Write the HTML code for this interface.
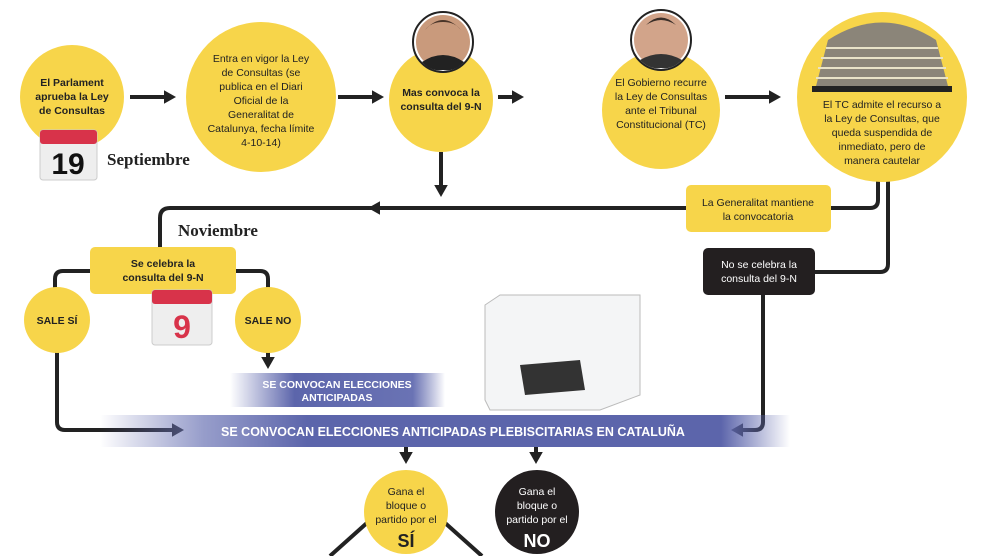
<!DOCTYPE html>
<html><head><meta charset="utf-8"><style>
body{margin:0;background:#fff;width:990px;height:556px;overflow:hidden}
svg{display:block}
text{font-family:"Liberation Sans",sans-serif}
.b{font-weight:bold}
</style></head><body>
<svg width="990" height="556" viewBox="0 0 990 556">
<defs>
<marker id="a" markerWidth="4" markerHeight="4" refX="2" refY="2" orient="auto" markerUnits="strokeWidth"><path d="M0,0.3L3,2L0,3.7z" fill="#222"/></marker>
<linearGradient id="g" x1="0" x2="1"><stop offset="0" stop-color="#5d66ad" stop-opacity="0"/><stop offset="0.15" stop-color="#6a73b4" stop-opacity="0.7"/><stop offset="0.3" stop-color="#5c65ab"/><stop offset="0.9" stop-color="#5c65ab"/><stop offset="1" stop-color="#5c65ab" stop-opacity="0"/></linearGradient>
<linearGradient id="g2" x1="0" x2="1"><stop offset="0" stop-color="#5d66ad" stop-opacity="0"/><stop offset="0.3" stop-color="#5c65ab"/><stop offset="0.85" stop-color="#6a73b4"/><stop offset="1" stop-color="#5c65ab" stop-opacity="0"/></linearGradient>
</defs>
<g stroke="#222" stroke-width="4" fill="none">
<path d="M130,97H172" marker-end="url(#a)"/>
<path d="M338,97H380" marker-end="url(#a)"/>
<path d="M498,97H520" marker-end="url(#a)"/>
<path d="M725,97H777" marker-end="url(#a)"/>
<path d="M441,152V193" marker-end="url(#a)"/>
<path d="M878,180V200Q878,208 870,208H830"/>
<path d="M686,208H170Q160,208 160,218V248"/>
<path d="M450,208H372" marker-end="url(#a)"/>
<path d="M888,180V264Q888,272 880,272H815"/>
<path d="M763,295V422Q763,430 755,430H735" marker-end="url(#a)"/>
<path d="M90,271H63Q55,271 55,279V292"/>
<path d="M236,271H260Q268,271 268,279V292"/>
<path d="M268,352V365" marker-end="url(#a)"/>
<path d="M57,352V422Q57,430 65,430H180" marker-end="url(#a)"/>
<path d="M406,447V460" marker-end="url(#a)"/>
<path d="M536,447V460" marker-end="url(#a)"/>
<path d="M368,522L330,556M444,522L482,556"/>
</g>
<g fill="#f7d54a">
<circle cx="72" cy="97" r="52"/>
<circle cx="261" cy="97" r="75"/>
<circle cx="441" cy="100" r="52"/>
<circle cx="661" cy="110" r="59"/>
<circle cx="882" cy="97" r="85"/>
<circle cx="57" cy="320" r="33"/>
<circle cx="268" cy="320" r="33"/>
<circle cx="406" cy="512" r="42"/>
<rect x="686" y="185" width="145" height="47" rx="5"/>
<rect x="90" y="247" width="146" height="47" rx="5"/>
</g>
<circle cx="537" cy="512" r="42" fill="#231f20"/>
<rect x="703" y="248" width="112" height="47" rx="5" fill="#231f20"/>
<circle cx="443" cy="42" r="30" fill="#fff" stroke="#222" stroke-width="2"/>
<circle cx="443" cy="42" r="27" fill="#c99a7c"/><path d="M422,62Q443,48 464,62Q455,72 443,70Q431,72 422,62z" fill="#222"/><path d="M425,30Q443,10 461,30Q455,22 443,22Q431,22 425,30z" fill="#4a3529"/>
<circle cx="661" cy="40" r="30" fill="#fff" stroke="#222" stroke-width="2"/>
<circle cx="661" cy="40" r="27" fill="#d2a48a"/><path d="M640,60Q661,48 682,60Q672,70 661,68Q650,70 640,60z" fill="#333"/><path d="M646,25Q661,10 676,25Q668,20 661,20Q654,20 646,25z" fill="#3a2e28"/>
<path d="M815,90L828,40Q882,5 936,40L949,90z" fill="#8b8579"/>
<g stroke="#e8e2c8" stroke-width="2"><path d="M826,48H938M821,58H943M818,68H946M816,78H948"/></g>
<rect x="812" y="86" width="140" height="6" fill="#222"/>
<rect x="40" y="130" width="57" height="50" rx="3" fill="#eee" stroke="#ccc"/><rect x="40" y="130" width="57" height="14" rx="3" fill="#d8334a"/>
<text class="b" x="68" y="174" font-size="30" text-anchor="middle" fill="#111">19</text>
<rect x="152" y="290" width="60" height="55" rx="3" fill="#eee" stroke="#ccc"/><rect x="152" y="290" width="60" height="14" rx="3" fill="#d8334a"/>
<text class="b" x="182" y="338" font-size="32" text-anchor="middle" fill="#d8334a">9</text>
<text class="b" x="107" y="165" font-size="17" fill="#222" style="font-family:'Liberation Serif',serif">Septiembre</text>
<text class="b" x="178" y="236" font-size="17" fill="#222" style="font-family:'Liberation Serif',serif">Noviembre</text>
<path d="M485,305L500,295H640L640,395L600,410H490L485,400z" fill="#f4f5f6" stroke="#bbb"/>
<path d="M520,365L580,360L585,390L525,395z" fill="#333"/>
<rect x="230" y="373" width="215" height="34" fill="url(#g2)"/>
<rect x="100" y="415" width="690" height="32" fill="url(#g)"/>
<g class="b" fill="#222" text-anchor="middle" font-size="10.5">
<text x="72" y="86">El Parlament</text><text x="72" y="100">aprueba la Ley</text><text x="72" y="114">de Consultas</text>
</g>
<g fill="#222" text-anchor="middle" font-size="10.5">
<text x="261" y="62">Entra en vigor la Ley</text><text x="261" y="76">de Consultas (se</text><text x="261" y="90">publica en el Diari</text><text x="261" y="104">Oficial de la</text><text x="261" y="118">Generalitat de</text><text x="261" y="132">Catalunya, fecha límite</text><text x="261" y="146">4-10-14)</text>
<text x="661" y="86">El Gobierno recurre</text><text x="661" y="100">la Ley de Consultas</text><text x="661" y="114">ante el Tribunal</text><text x="661" y="128">Constitucional (TC)</text>
<text x="882" y="108">El TC admite el recurso a</text><text x="882" y="122">la Ley de Consultas, que</text><text x="882" y="136">queda suspendida de</text><text x="882" y="150">inmediato, pero de</text><text x="882" y="164">manera cautelar</text>
<text x="758" y="206">La Generalitat mantiene</text><text x="758" y="220">la convocatoria</text>
<text x="406" y="495">Gana el</text><text x="406" y="509">bloque o</text><text x="406" y="523">partido por el</text>
</g>
<g fill="#fff" text-anchor="middle" font-size="10.5">
<text x="759" y="268">No se celebra la</text><text x="759" y="282">consulta del 9-N</text>
<text x="537" y="495">Gana el</text><text x="537" y="509">bloque o</text><text x="537" y="523">partido por el</text>
<text class="b" x="537" y="547" font-size="18">NO</text>
<text class="b" x="337" y="388" font-size="10.5">SE CONVOCAN ELECCIONES</text><text class="b" x="337" y="401" font-size="10.5">ANTICIPADAS</text>
<text class="b" x="453" y="436" font-size="12.5">SE CONVOCAN ELECCIONES ANTICIPADAS PLEBISCITARIAS EN CATALUÑA</text>
</g>
<g class="b" fill="#222" text-anchor="middle" font-size="10.5">
<text x="441" y="96">Mas convoca la</text><text x="441" y="110">consulta del 9-N</text>
<text x="163" y="267">Se celebra la</text><text x="163" y="281">consulta del 9-N</text>
<text x="57" y="324">SALE SÍ</text><text x="268" y="324">SALE NO</text>
<text x="406" y="547" font-size="18">SÍ</text>
</g>
</svg>
</body></html>
